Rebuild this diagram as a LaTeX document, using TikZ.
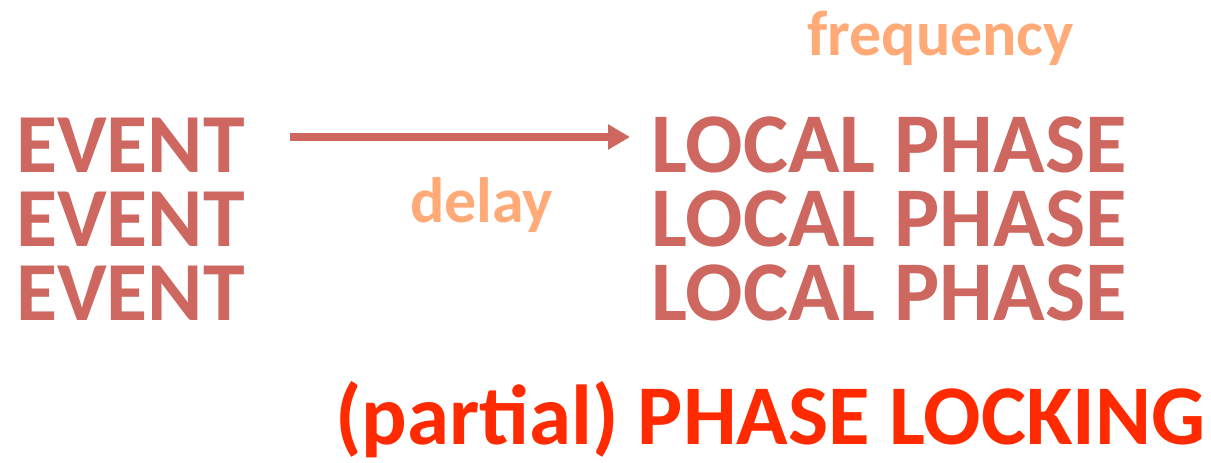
\documentclass[tikz,border=0pt]{standalone}
\usepackage{fontspec}
\setmainfont{Carlito}
\usetikzlibrary{arrows.meta}
\definecolor{evc}{HTML}{CD6760}
\definecolor{orc}{HTML}{FFAA77}
\definecolor{rdc}{HTML}{FF2A00}
\begin{document}
\begin{tikzpicture}[x=1pt,y=-1pt,
  big/.style={inner sep=0pt,anchor=base west,text height=55pt,text depth=0pt,font=\fontsize{84}{84}\selectfont\bfseries,text=evc},
  bigr/.style={inner sep=0pt,anchor=base west,text height=55pt,text depth=0pt,font=\fontsize{85}{85}\selectfont\bfseries,text=evc},
  small/.style={inner sep=0pt,anchor=base west,font=\fontsize{64}{64}\selectfont\bfseries,text=orc},
  lock/.style={inner sep=0pt,anchor=base west,font=\fontsize{85}{85}\selectfont\bfseries,text=rdc}]
\useasboundingbox (0,0) rectangle (1211,463);
\node[big] (e1) at (16,172) {EVENT};
\node[big] (e2) at (16,246) {EVENT};
\node[big] (e3) at (16,320) {EVENT};
\node[bigr] (l1) at (651,172) {LOCAL PHASE};
\node[bigr] (l2) at (651,246) {LOCAL PHASE};
\node[bigr] (l3) at (651,320) {LOCAL PHASE};
\node[small] (dl) at (410,222) {delay};
\node[small] (fq) at (807,55) {frequency};
\node[lock] (pl) at (335,444) {(partial) PHASE LOCKING};
\coordinate (a1) at (290,137);
\coordinate (a2) at (630,137);
\draw[evc,line width=8pt,-{Triangle[length=22pt,width=24pt]}] (a1) -- (a2);
\end{tikzpicture}
\end{document}
